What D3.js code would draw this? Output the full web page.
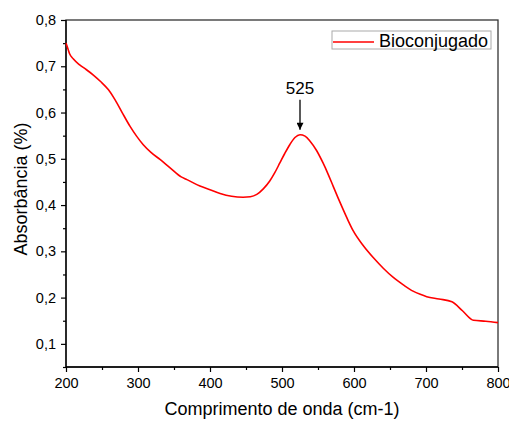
<!DOCTYPE html>
<html><head><meta charset="utf-8">
<script src="https://cdn.jsdelivr.net/npm/d3@7"></script>
<style>body{margin:0;background:#fff}svg{display:block}text{font-family:"Liberation Sans",Arial,sans-serif}</style>
</head><body><svg id="c" width="509" height="421"></svg>
<script>
const wavelength = [200,202,205,210,219,228,238,248,259,268,278,289,298,307,318,331,345,360,368,386,400,414,430,446,456,465,474,483,490,497,504,511,518,525,532,539,548,557,564,571,578,585,592,599,613,627,641,655,669,682,692,701,718,736,751,766,783,800];
const absorbance = [0.750,0.741,0.727,0.716,0.703,0.693,0.681,0.667,0.649,0.628,0.600,0.570,0.549,0.531,0.514,0.498,0.480,0.461,0.455,0.441,0.433,0.425,0.419,0.417,0.418,0.423,0.435,0.452,0.470,0.491,0.512,0.531,0.546,0.552,0.549,0.538,0.518,0.491,0.467,0.441,0.415,0.390,0.366,0.344,0.312,0.286,0.263,0.243,0.227,0.214,0.207,0.202,0.197,0.191,0.171,0.151,0.149,0.146];
const xTicks = [200,300,400,500,600,700,800];
const yTicks = [0.1,0.2,0.3,0.4,0.5,0.6,0.7,0.8];
const seriesName = "Bioconjugado";
const peakLabel = "525";
const peakX = 525, peakY = 0.552;

const svg = d3.select("#c");
const m = {l:66, r:498, t:20, b:367};
const x = d3.scaleLinear().domain([200,800]).range([m.l,m.r]);
const y = d3.scaleLinear().domain([0.05,0.8]).range([m.b,m.t]);
const fmt = d => d3.format(".1f")(d).replace(".", ",");

// frame
svg.append("rect").attr("x",m.l).attr("y",m.t).attr("width",m.r-m.l).attr("height",m.b-m.t)
  .attr("fill","none").attr("stroke","#333").attr("stroke-width",1.3);

// x axis
const gx = svg.append("g").attr("transform",`translate(0,${m.b})`)
  .call(d3.axisBottom(x).tickValues(d3.range(250,800,100)).tickSize(3).tickFormat(""));
const gx2 = svg.append("g").attr("transform",`translate(0,${m.b})`)
  .call(d3.axisBottom(x).tickValues(xTicks).tickSize(5).tickPadding(6).tickFormat(d3.format("d")));
[gx,gx2].forEach(g=>{g.select(".domain").remove(); g.selectAll("line").attr("stroke","#000").attr("stroke-width",1.2);});
gx2.selectAll("text").attr("font-size",14.5).attr("fill","#000");

// y axis
const gy = svg.append("g").attr("transform",`translate(${m.l},0)`)
  .call(d3.axisLeft(y).tickValues(d3.range(0.05,0.8,0.1)).tickSize(3).tickFormat(""));
const gy2 = svg.append("g").attr("transform",`translate(${m.l},0)`)
  .call(d3.axisLeft(y).tickValues(yTicks).tickSize(5).tickPadding(5).tickFormat(fmt));
[gy,gy2].forEach(g=>{g.select(".domain").remove(); g.selectAll("line").attr("stroke","#000").attr("stroke-width",1.2);});
gy2.selectAll("text").attr("font-size",14.5).attr("fill","#000");

svg.append("line").attr("x1",m.l).attr("x2",m.l).attr("y1",m.t).attr("y2",m.b).attr("stroke","#000").attr("stroke-width",1.3);
svg.append("line").attr("x1",m.l).attr("x2",m.r).attr("y1",m.b).attr("y2",m.b).attr("stroke","#000").attr("stroke-width",1.3);

// titles
svg.append("text").attr("x",282).attr("y",415).attr("text-anchor","middle").attr("font-size",18).text("Comprimento de onda (cm-1)");
svg.append("text").attr("transform","translate(27,189) rotate(-90)").attr("text-anchor","middle").attr("font-size",18).text("Absorbância (%)");

// line
const data = wavelength.map((w,i)=>({w, a:absorbance[i]}));
svg.append("path").datum(data).attr("fill","none").attr("stroke","#ff0000").attr("stroke-width",1.6)
  .attr("d", d3.line().x(d=>x(d.w)).y(d=>y(d.a)).curve(d3.curveMonotoneX));

// annotation
const ax = x(peakX);
svg.append("defs").append("marker").attr("id","ah").attr("viewBox","0 0 10 10").attr("refX",10).attr("refY",5)
  .attr("markerWidth",12).attr("markerHeight",7).attr("orient","auto").attr("markerUnits","userSpaceOnUse")
  .append("path").attr("d","M0,0L10,5L0,10z").attr("fill","#000");
svg.append("line").attr("x1",ax).attr("x2",ax).attr("y1",y(peakY)-35).attr("y2",y(peakY)-5)
  .attr("stroke","#000").attr("stroke-width",1.3).attr("marker-end","url(#ah)");
svg.append("text").attr("x",ax).attr("y",y(peakY)-41).attr("text-anchor","middle").attr("font-size",17).text(peakLabel);

// legend
const lg = svg.append("g");
lg.append("rect").attr("x",332).attr("y",31).attr("width",159).attr("height",18).attr("fill","#fff").attr("stroke","#aaa").attr("stroke-width",1);
lg.append("line").attr("x1",333).attr("x2",374).attr("y1",42).attr("y2",42).attr("stroke","#ff0000").attr("stroke-width",1.6);
lg.append("text").attr("x",379).attr("y",46.5).attr("font-size",18).text(seriesName);
</script></body></html>
